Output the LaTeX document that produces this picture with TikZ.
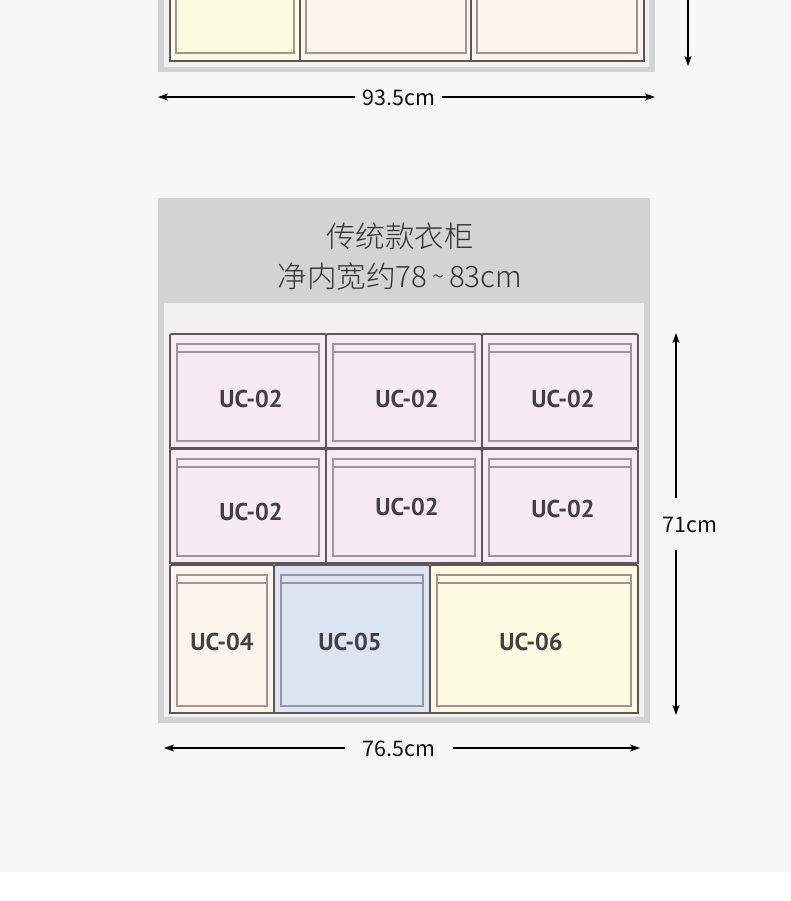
\documentclass[tikz,border=0pt]{standalone}
\usepackage{fontspec}
\setmainfont{Noto Sans CJK SC}
\IfFontExistsTF{Noto Sans CJK SC Light}
  {\newfontfamily\thinfont{Noto Sans CJK SC Light}}
  {\IfFontExistsTF{Noto Sans CJK SC DemiLight}
     {\newfontfamily\thinfont{Noto Sans CJK SC DemiLight}}
     {\newfontfamily\thinfont{Noto Sans CJK SC}}}
\newfontfamily\labfont{PT Sans}
\usetikzlibrary{arrows.meta}
\definecolor{bgc}{HTML}{F7F7F7}
\definecolor{framec}{HTML}{D4D3D4}
\definecolor{innerc}{HTML}{F2F1F2}
\definecolor{edgec}{HTML}{5C5658}
\definecolor{pedgec}{HTML}{9D9599}
\definecolor{pinkc}{HTML}{F7EAF3}
\definecolor{peachc}{HTML}{FDF4EC}
\definecolor{bluec}{HTML}{DAE4F3}
\definecolor{yellowc}{HTML}{FCFBE0}
\definecolor{labc}{HTML}{434042}
\definecolor{txtc}{HTML}{111111}
\definecolor{headc}{HTML}{333333}
\tikzset{
  outl/.style={draw=edgec, line width=1.9pt},
  panl/.style={draw=pedgec, line width=1.3pt},
  lbl/.style={font=\labfont\bfseries\fontsize{24.3}{26}\selectfont, text=labc, inner sep=0pt},
  dimtxt/.style={font=\fontsize{21.5}{24}\selectfont, text=txtc, inner sep=0pt},
  arr/.style={draw=black, line width=1.1pt, -{Stealth[length=10pt,width=7pt,inset=2.5pt]}},
}
% drawer: x1 y1 x2 y2 fill
\newcommand\drw[5]{%
  \path[outl, fill=#5] (#1,#4) -- (#1,#2+4) .. controls (#1,#2) .. (#1+4,#2)
     -- (#3-4,#2) .. controls (#3,#2) .. (#3,#2+4) -- (#3,#4) -- cycle;
  \draw[panl] (#1+7,#2+10) rectangle (#3-7,#4-7);
  \draw[panl] (#1+7,#2+18) -- (#3-7,#2+18);
}
\begin{document}
\begin{tikzpicture}[x=1pt,y=-1pt]
\useasboundingbox (0,0) rectangle (790,901);
\clip (0,0) rectangle (790,901);
\fill[bgc] (0,0) rectangle (790,872);
\fill[white] (0,872) rectangle (790,901);

% ---- top (partial) wardrobe ----
\fill[framec] (158,-5) rectangle (655,72);
\fill[innerc] (164,-5) rectangle (649,67);
\path[outl, fill=yellowc] (170,-5) -- (170,61) -- (300,61) -- (300,-5);
\path[outl, fill=peachc] (300,-5) -- (300,61) -- (471,61) -- (471,-5);
\path[outl, fill=peachc] (471,-5) -- (471,61) -- (644,61) -- (644,-5);
\draw[panl] (176,-5) -- (176,53) -- (294,53) -- (294,-5);
\draw[panl] (306,-5) -- (306,53) -- (466,53) -- (466,-5);
\draw[panl] (477,-5) -- (477,53) -- (637,53) -- (637,-5);

\coordinate (tvtop) at (688,-5);
\coordinate (tvbot) at (688,66);
\draw[arr] (tvtop) -- (tvbot);

\node[dimtxt] (t935) at (399,98) {93.5cm};
\coordinate (t1l) at (158,97);
\coordinate (t1r) at (655,97);
\coordinate (g1l) at (355,97);
\coordinate (g1r) at (442,97);
\draw[arr] (g1l) -- (t1l);
\draw[arr] (g1r) -- (t1r);

% ---- bottom wardrobe ----
\fill[framec] (158,198) rectangle (650,723);
\fill[innerc] (164,303) rectangle (644,717);
\node[font=\thinfont\fontsize{29.5}{40}\selectfont, text=headc, align=center, inner sep=0pt] (head) at (400,257)
  {传统款衣柜\\净内宽约78\,\raisebox{0.12em}{\fontsize{22}{24}\selectfont\char"007E}\,83cm};

% row 1
\drw{170}{334}{326}{448}{pinkc}
\drw{326}{334}{482}{448}{pinkc}
\drw{482}{334}{638}{448}{pinkc}
% row 2
\drw{170}{449}{326}{563}{pinkc}
\drw{326}{449}{482}{563}{pinkc}
\drw{482}{449}{638}{563}{pinkc}
% row 3
\drw{170}{565}{274}{713}{peachc}
\drw{274}{565}{430}{713}{bluec}
\drw{430}{565}{638}{713}{yellowc}

\node[lbl] (a1) at (251,399) {UC-02};
\node[lbl] (a2) at (407,399) {UC-02};
\node[lbl] (a3) at (563,399) {UC-02};
\node[lbl] (b1) at (251,512) {UC-02};
\node[lbl] (b2) at (407,507) {UC-02};
\node[lbl] (b3) at (563,509) {UC-02};
\node[lbl] (c1) at (222,642) {UC-04};
\node[lbl] (c2) at (350,642) {UC-05};
\node[lbl] (c3) at (531,642) {UC-06};

% right dimension
\node[dimtxt] (t71) at (690,525) {71cm};
\coordinate (v1t) at (676,333);
\coordinate (v1b) at (676,715);
\coordinate (v1gt) at (676,498);
\coordinate (v1gb) at (676,550);
\draw[arr] (v1gt) -- (v1t);
\draw[arr] (v1gb) -- (v1b);

% bottom dimension
\node[dimtxt] (t765) at (399,749) {76.5cm};
\coordinate (b1l) at (164,748);
\coordinate (b1r) at (640,748);
\coordinate (g2l) at (345,748);
\coordinate (g2r) at (453,748);
\draw[arr] (g2l) -- (b1l);
\draw[arr] (g2r) -- (b1r);
\end{tikzpicture}
\end{document}
